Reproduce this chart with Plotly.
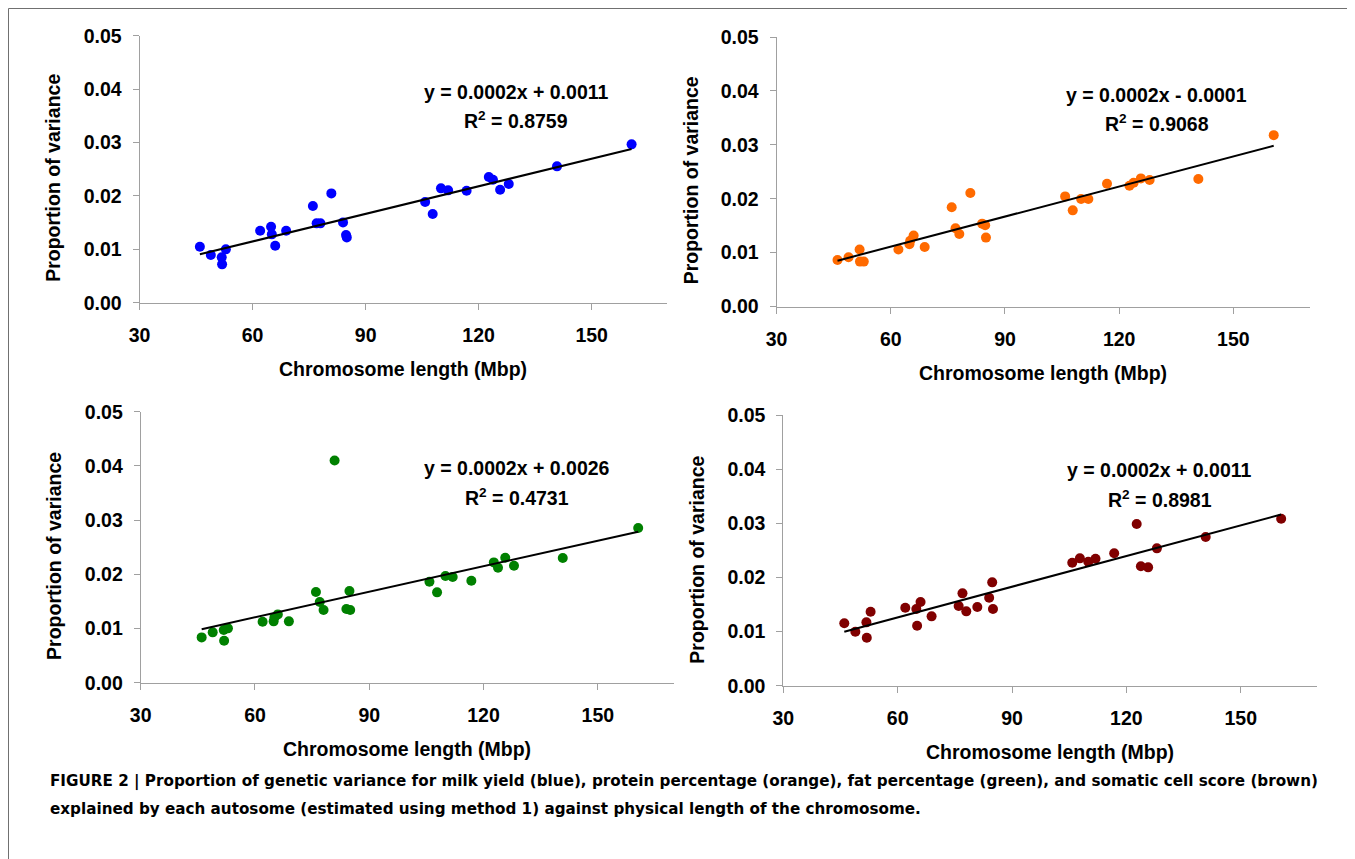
import numpy as np
import plotly.graph_objects as go

W, H = 1355, 859
OFF = 8  # page body margin of the browser; positions below are in screen pixels

# Chromosome lengths (Mbp), shared by all panels
chrom_len = [46.0, 48.9, 51.8, 51.9, 52.9, 62.0, 64.9, 65.1, 66.0, 68.9,
             76.0, 77.0, 78.0, 80.9, 84.0, 84.8, 85.0, 105.8, 107.8, 110.0,
             111.9, 116.8, 122.7, 123.8, 125.7, 128.0, 140.8, 160.6]

milk_yield = [0.01049, 0.00893, 0.00849, 0.00718, 0.00999, 0.01348, 0.01423, 0.01280, 0.01067, 0.01348,
              0.01810, 0.01486, 0.01486, 0.02047, 0.01504, 0.01267, 0.01223, 0.01885, 0.01660, 0.02141,
              0.02104, 0.02097, 0.02353, 0.02303, 0.02116, 0.02222, 0.02553, 0.02965]

protein_pct = [0.00864, 0.00914, 0.01056, 0.00833, 0.00833, 0.01056, 0.01154, 0.01220, 0.01315, 0.01105,
               0.01840, 0.01451, 0.01346, 0.02105, 0.01537, 0.01506, 0.01278, 0.02043, 0.01784, 0.01994,
               0.01994, 0.02278, 0.02241, 0.02296, 0.02377, 0.02346, 0.02364, 0.03179]

fat_pct = [0.00836, 0.00929, 0.00972, 0.00775, 0.01003, 0.01125, 0.01132, 0.01205, 0.01260, 0.01132,
           0.01673, 0.01488, 0.01341, 0.04100, 0.01359, 0.01691, 0.01341, 0.01863, 0.01667, 0.01968,
           0.01950, 0.01882, 0.02220, 0.02120, 0.02306, 0.02159, 0.02300, 0.02854]

somatic_cell = [0.01152, 0.00998, 0.01170, 0.00887, 0.01367, 0.01441, 0.01416, 0.01108, 0.01546, 0.01281,
                0.01472, 0.01706, 0.01373, 0.01453, 0.01626, 0.01909, 0.01416, 0.02272, 0.02352, 0.02291,
                0.02346, 0.02445, 0.02987, 0.02205, 0.02186, 0.02537, 0.02746, 0.03085]

equations = ["y = 0.0002x + 0.0011", "y = 0.0002x - 0.0001", "y = 0.0002x + 0.0026", "y = 0.0002x + 0.0011"]
r_squared = ["0.8759", "0.9068", "0.4731", "0.8981"]

x_ticks = [30, 60, 90, 120, 150]
y_ticks = [0.00, 0.01, 0.02, 0.03, 0.04, 0.05]

FONT = "Arial, Liberation Sans, sans-serif"
AXIS_GREY = "#A0A0A0"


def fx(px):
    return (px - OFF) / W


def fy(py):
    return 1 - (py - OFF) / H


panels = [
    dict(y=milk_yield, color="#0000FF", xdom=(139.6, 667.0), ydom=(35.7, 302.7),
         eq=(130.1, 0.0395), r2=(130.0, 0.0342)),
    dict(y=protein_pct, color="#FF6A00", xdom=(776.6, 1309.5), ydom=(37.0, 306.5),
         eq=(129.9, 0.0392), r2=(129.9, 0.0340)),
    dict(y=fat_pct, color="#008000", xdom=(140.7, 674.0), ydom=(411.7, 682.7),
         eq=(128.9, 0.03956), r2=(128.9, 0.03432)),
    dict(y=somatic_cell, color="#800000", xdom=(783.3, 1317.0), ydom=(415.0, 685.7),
         eq=(128.7, 0.03984), r2=(128.7, 0.03448)),
]

fig = go.Figure()
annotations = []
shapes = []

for i, p in enumerate(panels):
    k = "" if i == 0 else str(i + 1)
    xa, ya = "x" + k, "y" + k
    x = np.array(chrom_len)
    y = np.array(p["y"])
    fig.add_trace(go.Scatter(x=x, y=y, mode="markers", xaxis=xa, yaxis=ya,
                             marker=dict(color=p["color"], size=10, line=dict(width=0)),
                             showlegend=False, hoverinfo="x+y"))
    slope, icpt = np.polyfit(x, y, 1)
    xl = np.array([x.min(), x.max()])
    fig.add_trace(go.Scatter(x=xl, y=slope * xl + icpt, mode="lines", xaxis=xa, yaxis=ya,
                             line=dict(color="black", width=2), showlegend=False, hoverinfo="skip"))

    x0, x1 = p["xdom"]
    yt, yb = p["ydom"]
    common = dict(showline=True, linecolor=AXIS_GREY, linewidth=1, ticks="outside",
                  tickcolor=AXIS_GREY, ticklen=6, showgrid=False, zeroline=False, automargin=False,
                  tickfont=dict(family=FONT, size=19.5, color="black", weight="bold"),
                  fixedrange=True)
    fig.layout["xaxis" + k] = dict(domain=[fx(x0), fx(x1)], range=[30, 170], tickvals=x_ticks,
                                   anchor=ya, ticklabelstandoff=9, **common)
    fig.layout["yaxis" + k] = dict(domain=[fy(yb), fy(yt)], range=[0, 0.05], tickvals=y_ticks,
                                   tickformat=".2f", anchor=xa, ticklabelstandoff=7, **common)

    tf = dict(family=FONT, size=19.5, color="black")
    annotations.append(dict(x=p["eq"][0], y=p["eq"][1], xref=xa, yref=ya, text="<b>" + equations[i] + "</b>",
                            showarrow=False, font=tf, xanchor="center", yanchor="middle"))
    annotations.append(dict(x=p["r2"][0], y=p["r2"][1], xref=xa, yref=ya,
                            text="<b>R<sup>2</sup> = " + r_squared[i] + "</b>",
                            showarrow=False, font=tf, xanchor="center", yanchor="middle"))
    # axis titles
    annotations.append(dict(x=fx((x0 + x1) / 2), y=fy(yb + 66), xref="paper", yref="paper",
                            text="<b>Chromosome length (Mbp)</b>", showarrow=False, font=tf,
                            xanchor="center", yanchor="middle"))
    annotations.append(dict(x=fx(x0 - 86), y=fy((yt + yb) / 2 + 9), xref="paper", yref="paper",
                            text="<b>Proportion of variance</b>", showarrow=False, font=tf, textangle=-90,
                            xanchor="center", yanchor="middle"))

cap_font = dict(family="DejaVu Sans, sans-serif", size=15.2, color="black")
annotations.append(dict(x=fx(48), y=fy(781), xref="paper", yref="paper", xanchor="left", yanchor="middle",
                        showarrow=False, font=cap_font,
                        text="<b>FIGURE 2 | Proportion of genetic variance for milk yield (blue), protein percentage (orange), "
                             "fat percentage (green), and somatic cell score (brown)</b>"))
annotations.append(dict(x=fx(48), y=fy(809), xref="paper", yref="paper", xanchor="left", yanchor="middle",
                        showarrow=False, font=cap_font,
                        text="<b>explained by each autosome (estimated using method 1) against physical length of the chromosome.</b>"))

shapes.append(dict(type="rect", xref="paper", yref="paper", x0=0.5 / W, x1=fx(1351.5),
                   y0=-0.05, y1=1 - 0.5 / H, line=dict(color="#707070", width=1)))

fig.update_layout(width=W, height=H, margin=dict(l=0, r=0, t=0, b=0, autoexpand=False),
                  paper_bgcolor="white", plot_bgcolor="white",
                  annotations=annotations, shapes=shapes, showlegend=False)

fig.write_html("out.html")
